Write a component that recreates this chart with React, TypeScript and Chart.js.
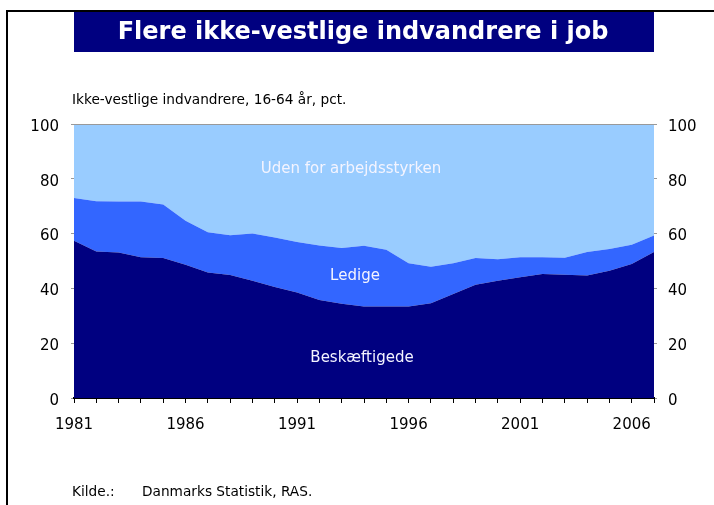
import React, { useEffect, useRef } from "react";
import { Chart, registerables } from "chart.js";

Chart.register(...registerables);

const years = [1981,1982,1983,1984,1985,1986,1987,1988,1989,1990,1991,1992,1993,1994,1995,1996,1997,1998,1999,2000,2001,2002,2003,2004,2005,2006,2007];
const employed = [57.4,53.5,53.1,51.4,51.1,48.6,45.8,44.9,42.8,40.5,38.5,35.8,34.4,33.4,33.4,33.4,34.6,38.0,41.3,42.8,44.1,45.3,45.0,44.7,46.4,48.9,53.3];
const unemployed = [15.6,18.3,18.6,20.3,19.5,16.1,14.7,14.5,17.2,18.1,18.4,19.9,20.3,22.2,20.7,15.8,13.3,11.2,9.8,7.8,7.3,6.1,6.2,8.6,8.0,7.0,6.0];
const outside = [27.0,28.2,28.3,28.3,29.4,35.3,39.5,40.6,40.0,41.4,43.1,44.3,45.3,44.4,45.9,50.8,52.1,50.8,48.9,49.4,48.6,48.6,48.8,46.7,45.6,44.1,40.7];
const yTicks = [0, 20, 40, 60, 80, 100];

const title = "Flere ikke-vestlige indvandrere i job";
const subtitle = "Ikke-vestlige indvandrere, 16-64 år, pct.";
const seriesNames = ["Beskæftigede", "Ledige", "Uden for arbejdsstyrken"];

const FONT = "'DejaVu Sans', Verdana, sans-serif";

const decorPlugin = {
  id: "decor",
  afterDraw(chart: any) {
    const ctx = chart.ctx;
    const a = chart.chartArea;
    ctx.save();
    // frame
    ctx.strokeStyle = "#000";
    ctx.lineWidth = 2;
    ctx.beginPath();
    ctx.moveTo(7, 505);
    ctx.lineTo(7, 11);
    ctx.lineTo(714, 11);
    ctx.stroke();
    // title box
    ctx.fillStyle = "#000080";
    ctx.fillRect(74, 12, 580, 40);
    ctx.fillStyle = "#fff";
    ctx.font = "bold 24px " + FONT;
    ctx.textAlign = "center";
    ctx.textBaseline = "middle";
    ctx.fillText(title, 363, 33);
    // subtitle
    ctx.fillStyle = "#000";
    ctx.font = "13.7px " + FONT;
    ctx.textAlign = "left";
    ctx.fillText(subtitle, 72, 100);
    // source
    ctx.fillText("Kilde.:", 72, 492);
    ctx.fillText("Danmarks Statistik, RAS.", 142, 492);
    // top plot border
    ctx.strokeStyle = "#999";
    ctx.lineWidth = 1;
    ctx.beginPath();
    ctx.moveTo(a.left, Math.round(a.top) + 0.5);
    ctx.lineTo(a.right, Math.round(a.top) + 0.5);
    ctx.stroke();
    // series labels
    ctx.fillStyle = "#f4f4ff";
    ctx.font = "15px " + FONT;
    ctx.textAlign = "center";
    ctx.fillText(seriesNames[2], 351, 169);
    ctx.fillText(seriesNames[1], 355, 276);
    ctx.fillText(seriesNames[0], 362, 358);
    ctx.restore();
  },
};

export default function App() {
  const ref = useRef<HTMLCanvasElement>(null);
  useEffect(() => {
    if (!ref.current) return;
    const mk = (label: string, data: number[], color: string, fill: any) => ({
      label,
      data,
      backgroundColor: color,
      borderColor: color,
      borderWidth: 0,
      pointRadius: 0,
      tension: 0,
      fill,
    });
    const yTickOpts = (pad: number) => ({
      stepSize: 20,
      padding: pad,
      labelOffset: 3,
      color: "#000",
      font: { family: FONT, size: 15 },
      callback: (v: any) => (yTicks.includes(v) ? String(v) : ""),
    });
    const chart = new Chart(ref.current, {
      type: "line",
      data: {
        labels: years.map(String),
        datasets: [
          mk(seriesNames[0], employed, "#000080", "origin"),
          mk(seriesNames[1], unemployed, "#3366FF", "-1"),
          mk(seriesNames[2], outside, "#99CCFF", "-1"),
        ],
      },
      options: {
        animation: false,
        responsive: false,
        events: [],
        layout: { padding: { top: 124, left: 0, right: 0, bottom: 0 } },
        plugins: { legend: { display: false }, tooltip: { enabled: false } },
        scales: {
          x: {
            type: "category",
            offset: false,
            grid: { drawOnChartArea: false, drawTicks: true, tickLength: 5, color: "#000" },
            border: { display: true, color: "#000", width: 2 },
            ticks: {
              autoSkip: false,
              maxRotation: 0,
              padding: 13,
              color: "#000",
              font: { family: FONT, size: 15 },
              callback: (v: any, i: number) => (i % 5 === 0 ? years[i] : ""),
            },
            afterFit: (s: any) => { s.height = 107; },
          },
          y: {
            stacked: true,
            min: 0,
            max: 100,
            position: "left",
            grid: { drawOnChartArea: false, drawTicks: true, tickLength: 3, color: "#999" },
            border: { display: false },
            ticks: yTickOpts(12),
            afterFit: (s: any) => { s.width = 74; },
          },
          y2: {
            min: 0,
            max: 100,
            position: "right",
            grid: { drawOnChartArea: false, drawTicks: true, tickLength: 3, color: "#999" },
            border: { display: false },
            ticks: yTickOpts(11),
            afterFit: (s: any) => { s.width = 60; },
          },
        },
      },
      plugins: [decorPlugin],
    });
    return () => chart.destroy();
  }, []);
  return (
    <div style={{ position: "fixed", left: 0, top: 0, width: 714, height: 505, background: "#fff" }}>
      <canvas ref={ref} width={714} height={505} style={{ display: "block", width: 714, height: 505 }} />
    </div>
  );
}
